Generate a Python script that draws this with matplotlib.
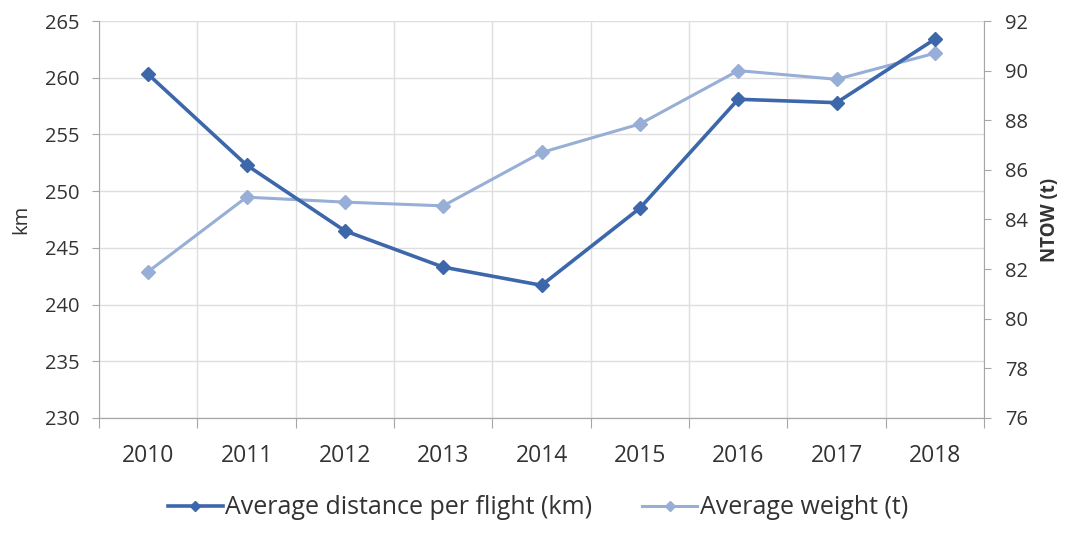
import numpy as np
import matplotlib
matplotlib.use("Agg")
import matplotlib.pyplot as plt

plt.rcParams['font.family'] = ['Open Sans', 'DejaVu Sans']

years = ['2010', '2011', '2012', '2013', '2014', '2015', '2016', '2017', '2018']
distance_km = [260.3, 252.3, 246.5, 243.3, 241.7, 248.5, 258.1, 257.8, 263.4]
weight_t = [81.9, 84.9, 84.7, 84.55, 86.7, 87.85, 90.0, 89.65, 90.7]

km_ticks = [230, 235, 240, 245, 250, 255, 260, 265]
t_ticks = [76, 78, 80, 82, 84, 86, 88, 90, 92]

dark = '#3d67ab'
light = '#97aed6'
grid_c = '#dedede'
axis_c = '#a6a6a6'
text_c = '#333333'

x = np.arange(len(years))

fig = plt.figure(figsize=(10.65, 5.33), dpi=100)
ax = fig.add_axes([0.093, 0.2158, 0.831, 0.7448])
ax2 = ax.twinx()

# km axis sits above the weight axis so its line is drawn last
ax.set_zorder(2)
ax2.set_zorder(1)
ax.patch.set_visible(False)
ax2.patch.set_visible(True)
ax2.patch.set_facecolor('white')

ax.set_xlim(-0.5, len(years) - 0.5)
ax.set_ylim(230, 265)
ax2.set_ylim(76, 92)

# gridlines behind both series
ax2.hlines(km_ticks, -0.5, len(years) - 0.5, colors=grid_c, lw=1,
           transform=ax.transData, zorder=0)
ax2.vlines(np.arange(-0.5, len(years)), 230, 265, colors=grid_c, lw=1,
           transform=ax.transData, zorder=0)

l2, = ax2.plot(x, weight_t, color=light, lw=2.2, marker='D', ms=7,
               mec=light, mfc=light, label='Average weight (t)', zorder=3)
l1, = ax.plot(x, distance_km, color=dark, lw=2.6, marker='D', ms=7,
              mec=dark, mfc=dark, label='Average distance per flight (km)', zorder=3)

ax.set_yticks(km_ticks)
ax.set_yticklabels([str(v) for v in km_ticks])
ax2.set_yticks(t_ticks)
ax2.set_yticklabels([str(v) for v in t_ticks])

ax.set_xticks(np.arange(-0.5, len(years)))
ax.set_xticklabels([])
ax.set_xticks(x, minor=True)
ax.set_xticklabels(years, minor=True)

ax.tick_params(axis='x', which='major', length=7, color=axis_c, direction='out')
ax.tick_params(axis='x', which='minor', length=0, pad=19, labelsize=16.5,
               labelcolor=text_c)
ax.tick_params(axis='y', length=5, color=axis_c, labelsize=14.5, labelcolor=text_c, pad=9)
ax2.tick_params(axis='y', length=5, color=axis_c, labelsize=14.5, labelcolor=text_c, pad=10)

for a in (ax, ax2):
    a.spines['top'].set_visible(False)
    for s in ('left', 'right', 'bottom'):
        a.spines[s].set_color(axis_c)
ax.spines['right'].set_visible(False)
ax2.spines['left'].set_visible(False)

ax.set_ylabel('km', fontsize=14.5, color=text_c, labelpad=10)
ax2.set_ylabel('NTOW (t)', fontsize=13.5, color=text_c, fontweight='bold', labelpad=9)

fig.legend(handles=[l1, l2], loc='center', bbox_to_anchor=(0.505, 0.047), ncol=2,
           frameon=False, fontsize=18, handlelength=2.2, handletextpad=0.1,
           columnspacing=2.0, labelcolor=text_c, markerscale=0.8)

fig.savefig('out.png', dpi=100)
